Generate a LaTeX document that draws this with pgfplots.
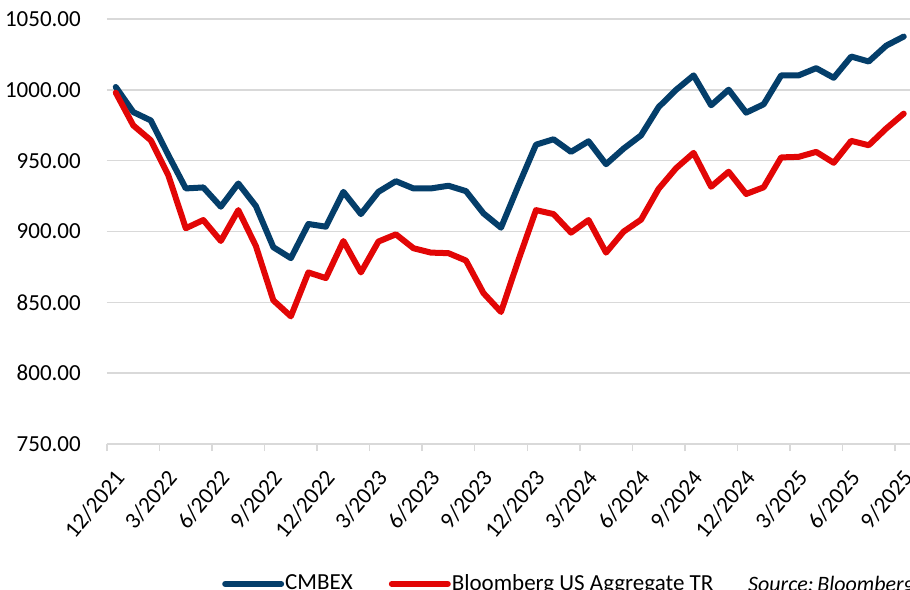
\documentclass[border=0pt]{standalone}
\usepackage{fontspec}
\setmainfont{Carlito}
\usepackage{pgfplots}
\pgfplotsset{compat=1.18}
\usepackage{pgfplotstable}
\definecolor{cmbex}{RGB}{4,62,106}
\definecolor{bbg}{RGB}{226,6,6}
\definecolor{gridgray}{RGB}{217,217,217}
\pgfplotstableread{
i cmbex bbg
0 1002 998
1 984.3 974.9
2 978.4 964.4
3 954 939.8
4 930.4 902.3
5 931.1 908.1
6 917.5 893.3
7 933.9 915.1
8 918 889.8
9 888.9 851.4
10 881.2 840.1
11 905.3 871.1
12 903.4 867.1
13 928 893.3
14 912.3 871.1
15 928 892.9
16 935.5 898
17 930.4 888.2
18 930.4 885.1
19 932.3 884.7
20 928.5 879.5
21 912.8 856.5
22 902.7 843.2
23 932.5 880
24 961.3 915.1
25 965.1 912.3
26 956.2 899.2
27 963.7 908.1
28 947.5 885.1
29 958.5 899.9
30 967.9 908.4
31 987.8 930.1
32 1000 944.7
33 1010.2 955.5
34 989.1 931.6
35 1000.1 942.2
36 983.9 926.5
37 989.8 931.2
38 1010.2 952.3
39 1010.2 952.7
40 1015.3 956.2
41 1008.5 948.5
42 1023.5 964
43 1020 960.9
44 1031.2 972.7
45 1037.6 983.2
}\datatable
\begin{document}
\fontsize{23bp}{27bp}\selectfont
\begin{tikzpicture}
\begin{axis}[
  name=ax,
  scale only axis,
  width=805.5bp, height=425bp,
  xmin=-0.5, xmax=45.5,
  ymin=750, ymax=1050,
  ytick={750,800,...,1050},
  yticklabel={\pgfmathprintnumber[fixed,fixed zerofill,precision=2]{\tick}},
  /pgf/number format/assume math mode=true,
  /pgf/number format/1000 sep={},
  xtick={-0.5,2.5,...,44.5},
  xticklabels={12/2021,3/2022,6/2022,9/2022,12/2022,3/2023,6/2023,9/2023,12/2023,3/2024,6/2024,9/2024,12/2024,3/2025,6/2025,9/2025},
  ymajorgrids,
  grid style={gridgray, line width=1.5bp},
  separate axis lines,
  axis x line*=bottom,
  axis y line*=left,
  x axis line style={gridgray, line width=1.5bp, -},
  y axis line style={draw=none},
  ytick style={draw=none},
  xtick style={gridgray, line width=1.5bp},
  tick align=outside,
  major tick length=7bp,
  yticklabel style={font=\fontsize{23bp}{27bp}\selectfont, anchor=east, inner sep=0pt, xshift=-19bp},
  xticklabel style={font=\fontsize{23bp}{27bp}\selectfont, xshift=13bp, yshift=-23bp, rotate=50, anchor=east, inner sep=0pt},
  legend style={font=\fontsize{23bp}{27bp}\selectfont, at={(axis description cs:0,0)}, anchor=west, xshift=115bp, yshift=-140bp, draw=none, fill=none, inner sep=0pt, legend columns=-1,
    /tikz/every even column/.append style={column sep=36bp},
    /tikz/every odd column/.append style={column sep=1bp},
    nodes={inner sep=0pt, anchor=west}},
  legend image code/.code={\draw[#1] (0bp,0bp) -- (56bp,0bp);},
  every axis plot/.append style={line width=6bp, line join=round, line cap=round},
]
\addplot[cmbex, no markers] table[x=i, y=cmbex] {\datatable};
\addlegendentry{CMBEX}
\addplot[bbg, no markers] table[x=i, y=bbg] {\datatable};
\addlegendentry{Bloomberg US Aggregate TR}
\coordinate (O) at (rel axis cs:0,0);
\end{axis}
\node[anchor=base west, inner sep=0pt, font=\itshape\fontsize{22bp}{26bp}\selectfont] at ([xshift=641bp, yshift=-147bp]O) {Source:\,Bloomberg};
\pgfresetboundingbox
\path[use as bounding box] ([xshift=-107bp, yshift=-146bp]O) rectangle ([xshift=803bp, yshift=444bp]O);
\end{tikzpicture}
\end{document}
